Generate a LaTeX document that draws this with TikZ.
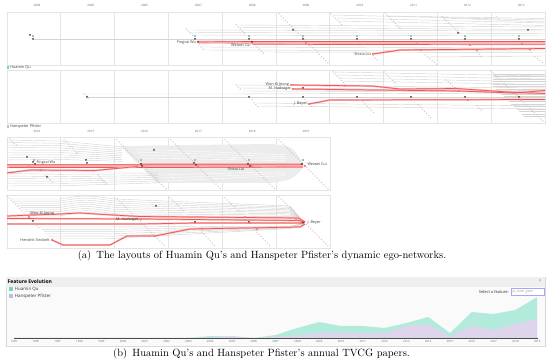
\documentclass[tikz,border=0pt]{standalone}
\usepackage{fontspec}
\setsansfont{Open Sans}
\usetikzlibrary{positioning}
\definecolor{egored}{RGB}{238,86,86}
\definecolor{egoband}{RGB}{249,182,182}
\definecolor{egodark}{RGB}{112,30,50}
\definecolor{egopale}{RGB}{216,196,203}
\definecolor{egogrid}{RGB}{228,228,228}
\definecolor{egogray}{RGB}{212,212,212}
\definecolor{egofan}{RGB}{236,236,236}
\definecolor{quteal}{RGB}{120,212,190}
\definecolor{qufill}{RGB}{178,234,220}
\definecolor{pfpurple}{RGB}{196,186,224}
\definecolor{pffill}{RGB}{222,212,236}
\definecolor{chartbg}{RGB}{250,250,250}
\definecolor{chartbar}{RGB}{239,239,239}
\tikzset{
  cell/.style={draw=egogrid, line width=0.7pt},
  year label/.style={font=\sffamily\fontsize{3}{3}\selectfont, text=black!60, inner sep=0pt},
  ego name/.style={font=\sffamily\fontsize{3.8}{4}\selectfont, text=black!75, inner sep=0.3pt},
  gray link/.style={draw=egogray, line width=0.45pt},
  red link/.style={draw=egored, line width=0.7pt},
  red halo/.style={draw=egoband, line width=1.8pt},
  red band/.style={draw=egoband, line width=3pt},
  pale diag/.style={draw=egopale, line width=1.5pt, line cap=round, dash pattern=on 0pt off 3pt},
  dark dot/.style={fill=egodark},
  ring dot/.style={draw=egored, fill=white, line width=0.4pt},
  qu key/.style={fill=quteal, inner sep=0pt, minimum size=2.5pt},
  pf key/.style={fill=pfpurple, inner sep=0pt, minimum size=2.5pt},
  caption/.style={font=\fontsize{10.5}{12}\selectfont, inner sep=0pt},
  chart text/.style={font=\sffamily\fontsize{4.4}{5}\selectfont, text=black!80, inner sep=0pt},
  axis year/.style={font=\sffamily\fontsize{2.8}{3}\selectfont, text=black!60, inner sep=0pt}
}

\begin{document}
\begin{tikzpicture}[x=1pt, y=-1pt]
\useasboundingbox (0,0) rectangle (550,363);

% (a) frames
\foreach \yr [count=\i from 0] in {2004,...,2013}
  \node[year label] (ya\yr) at ({37+53.8*\i},5) {\yr};
\foreach \ya/\yb in {12/65, 70/123} {
  \draw[cell] (7,\ya) rectangle (545,\yb);
  \foreach \i in {1,...,9}
    \draw[cell] ({7+53.8*\i},\ya) -- ({7+53.8*\i},\yb);
}
\foreach \yr [count=\i from 0] in {2014,...,2019}
  \node[year label] (yb\yr) at ({37+53.8*\i},131) {\yr};
\foreach \ya/\yb in {137/190, 195/248} {
  \draw[cell] (7,\ya) rectangle (330,\yb);
  \foreach \i in {1,...,5}
    \draw[cell] ({7+53.8*\i},\ya) -- ({7+53.8*\i},\yb);
}
\node[qu key] (qu key) at (7.8,67.6) {};
\node[ego name, right=0.5pt of qu key] (qu legend) {Huamin Qu};
\node[pf key] (pf key) at (7.8,126.4) {};
\node[ego name, right=0.5pt of pf key] (pf legend) {Hanspeter Pfister};

% Huamin Qu 2004-2013
\draw[gray link] (33,39) -- (545,39);
\foreach \xs/\ys/\ye in {186/30/31, 189/32.5/33.5, 192/35/36, 236/25/27, 239/27.5/29.5,
    201/47/48, 204/50/51, 258/52/52.5, 333/15/20, 336/18/23, 339/21/25.5,
    386/16/18.5, 444/18/22, 428/57/56}
  \draw[gray link] (\xs,\ys) -- (545,\ye);
\foreach \xa/\ya/\xb/\yb in {186/29/193/36, 199/45/205/51, 236/25/245/34, 255/45/264/54,
    279/14/329/64, 331/14/343/26, 373/56/379/62, 385/13/400/28, 425/55/438/65,
    442/17/460/33, 475/50/483/58, 497/17/500/20, 535/57/544/64}
  \draw[pale diag] (\xa,\ya) -- (\xb,\yb);
\foreach \x in {33,195,249,303,357,411,465,519}
  \fill[quteal] ({\x-0.6},35) rectangle ({\x+0.6},36.6);
\draw[red band] (198,42) -- (252,42.5) -- (545,43);
\draw[red link] (198,42) -- (252,41.5) -- (545,41.5);
\draw[red link] (252,44.3) -- (545,44.8);
\draw[red halo] (373,54) -- (400,50) -- (545,48.5);
\draw[red link] (373,54) -- (400,50) -- (545,48.5);
\foreach \x/\y in {30/35, 33/39, 195/39, 198/42, 249/39, 252/42, 293/30, 303/39,
    357/39, 411/39, 458/33, 465/39, 519/39, 528/30}
  \fill[dark dot] (\x,\y) circle (1pt);
\foreach \x/\y in {306/43, 309/44.5, 360/44.5, 417/44, 470/45, 522/44,
    373/54, 421/50, 477/50, 530/49.5}
  \filldraw[ring dot] (\x,\y) circle (0.9pt);
\node[ego name, anchor=east] (wu a) at (196.5,43) {Fingcai Wu};
\node[ego name, anchor=east] (cui a) at (251,45.5) {Weiwei Cui};
\node[ego name, anchor=east] (liu a) at (371.5,54) {Shixia Liu};

% Hanspeter Pfister 2004-2013
\draw[gray link] (84,94) -- (236,94) -- (545,93);
\draw[gray link] (87,97) -- (545,97);
\foreach \xs/\ys/\ye in {236/85/88, 239/88/90.5, 242/91/92, 255/103/106, 258/106/109,
    333/72/76, 336/75/79, 339/78/82, 342/81/84.5}
  \draw[gray link] (\xs,\ys) -- (545,\ye);
\foreach \k in {0,...,17}
  \draw[gray link] ({max(493,491+1.04*(3+2.5*\k)-14)},{74+2.5*\k}) -- (545,{74+2.5*\k});
\foreach \xa/\ya/\xb/\yb in {84/94/90/100, 236/85/242/91, 252/100/258/107, 297/90/297/90,
    305/100/312/107, 333/72/345/84, 363/102/375/114, 384/72/395/83, 418/105/432/119,
    446/80/455/88, 477/106/483/112, 491/71/543/121}
  \draw[pale diag] (\xa,\ya) -- (\xb,\yb);
\draw[red halo] (291,85) -- (372,86) -- (400,89) -- (456,88.5) -- (515,92.5) -- (545,93.5);
\draw[red halo] (293,89) -- (458,91) -- (515,93) -- (545,90.5);
\draw[red halo] (309,104) -- (330,100) -- (545,99.5);
\draw[red link] (291,85) -- (372,86) -- (400,89) -- (456,88.5) -- (515,92.5) -- (545,93.5);
\draw[red link] (293,89) -- (458,91) -- (515,93) -- (545,90.5);
\draw[red link] (309,104) -- (330,100) -- (545,99.5);
\foreach \x/\y in {87/97, 249/97, 303/88, 303/97, 357/97, 411/97, 465/97, 519/97}
  \fill[dark dot] (\x,\y) circle (1pt);
\foreach \x/\y in {291/85, 293/89, 309/104, 345/85.5, 455/88.5, 459/91, 515/92.5,
    468/100, 521/99.5}
  \filldraw[ring dot] (\x,\y) circle (0.9pt);
\node[ego name, anchor=east] (jeong a) at (289.5,85) {Won-Ki Jeong};
\node[ego name, anchor=east] (hadwiger a) at (291.5,89) {M. Hadwiger};
\node[ego name, anchor=east] (beyer a) at (307.5,104) {J. Beyer};

% Huamin Qu 2014-2019
\fill[egofan] (120,146) -- (270,144) .. controls (292,146) .. (303,163) -- (303,168)
  .. controls (292,180) .. (270,183) -- (157,183) -- cycle;
\foreach \yy in {149,152,155,158,175,178,181}
  \draw[white, line width=0.4pt] ({max(125,120+(\yy-146))+10},\yy) -- (285,{\yy+(165.5-\yy)*0.35});
\foreach \k in {0,...,8}
  \draw[gray link] (7,{140+2.5*\k}) -- (60,{141+2.3*\k}) -- (122,{147+1.8*\k});
\foreach \k in {0,...,6}
  \draw[gray link] (7,{171+2.5*\k}) -- (60,{172+2.3*\k}) -- (158,{172+1.8*\k});
\foreach \xa/\ya/\xb/\yb in {10/139/17/146, 46/176/54/184, 64/140/78/154, 98/175/108/186,
    117/140/166/189, 171/140/221/189, 225/140/275/189, 279/140/328/189}
  \draw[pale diag] (\xa,\ya) -- (\xb,\yb);
\foreach \x in {34,141,195,249,303}
  \fill[quteal] ({\x-0.6},159.5) rectangle ({\x+0.6},161.1);
\draw[red band] (7,166) -- (140,166);
\draw[draw=egoband, line width=5pt] (140,166) -- (303,166);
\draw[red link] (7,164.8) -- (140,164.8) -- (303,164.6);
\draw[red link] (7,167.4) -- (140,167.6) -- (303,167);
\draw[red halo] (7,173) -- (30,170) -- (95,170.5) -- (137,166.5);
\draw[red link] (7,173) -- (30,170) -- (95,170.5) -- (137,166.5);
\foreach \x/\y in {27/157, 33/162, 35/164, 47/177, 86/160, 87/163, 141/164, 142/166,
    154/150, 194/163, 196/165, 248/164, 250/166, 302/164}
  \fill[dark dot] (\x,\y) circle (1pt);
\foreach \x/\y in {29/167, 41/170, 93/170.5, 137/166.5, 144/167, 198/166.5, 252/166.5, 305/166}
  \filldraw[ring dot] (\x,\y) circle (0.9pt);
\node[ego name, anchor=west] (wu b) at (36,163) {Fingcai Wu};
\node[ego name, anchor=west] (liu b) at (227,169.5) {Shixia Liu};
\node[ego name, anchor=west] (cui b) at (307,164.5) {Weiwei Cui};

% Hanspeter Pfister 2014-2019
\foreach \k in {0,...,8}
  \draw[gray link] ({10+2.5*\k},{199+2.1*\k}) -- (60,{199+2.1*\k})
    .. controls (85,{195+2.1*\k}) .. (115,{199+2.1*\k}) -- (290,{206+1.3*\k}) -- (302,220);
\foreach \k in {0,...,5}
  \draw[gray link] ({40+2*\k},{227+2.3*\k}) -- (110,{227+2.3*\k}) -- (290,{226+0.5*\k}) -- (302,224);
\foreach \xa/\ya/\xb/\yb in {7/196/40/229, 117/199/166/247, 170/198/185/212, 200/230/215/246,
    225/198/240/212, 255/230/270/246, 279/197/328/246}
  \draw[pale diag] (\xa,\ya) -- (\xb,\yb);
\draw[red halo] (7,216) -- (60,214) -- (80,213) -- (113,215) -- (140,216.5) -- (298,218) -- (305,222);
\draw[red halo] (7,218.5) -- (140,219) -- (298,220.5) -- (305,222);
\draw[red halo] (7,224) -- (140,224) -- (195,223) -- (300,223) -- (305,222);
\draw[red halo] (52,240) -- (63,245) -- (110,245) -- (127,236) -- (155,236) -- (190,229) -- (300,227) -- (305,224);
\draw[red link] (7,216) -- (60,214) -- (80,213) -- (113,215) -- (140,216.5) -- (298,218) -- (305,222);
\draw[red link] (7,218.5) -- (140,219) -- (298,220.5) -- (305,222);
\draw[red link] (7,224) -- (140,224) -- (195,223) -- (300,223) -- (305,222);
\draw[red link] (52,240) -- (63,245) -- (110,245) -- (127,236) -- (155,236) -- (190,229) -- (300,227) -- (305,224);
\foreach \x/\y in {33/221, 156/206, 195/222, 249/222, 303/223}
  \fill[dark dot] (\x,\y) circle (1pt);
\foreach \x/\y in {29/217, 52/240, 141/219.5, 155/236, 202/228.5, 245/217, 250/223, 257/229,
    296/220, 301/223}
  \filldraw[ring dot] (\x,\y) circle (0.9pt);
\node[ego name, anchor=west] (jeong b) at (30,214) {Won-Ki Jeong};
\node[ego name, anchor=east] (hadwiger b) at (139,220) {M. Hadwiger};
\node[ego name, anchor=east] (strobelt b) at (50,240) {Hendrik Strobelt};
\node[ego name, anchor=west] (beyer b) at (307,222.5) {J. Beyer};

\node[caption] (cap a) at (262,255.5)
  {(a)\hspace{0.5em}The layouts of Huamin Qu’s and Hanspeter Pfister’s dynamic ego-networks.};

% (b) feature evolution
\filldraw[fill=chartbg, draw=black!15, line width=0.5pt] (6,277) rectangle (545,346);
\fill[chartbar] (6.3,277.3) rectangle (544.7,287);
\node[font=\sffamily\bfseries\fontsize{5}{6}\selectfont, anchor=west, inner sep=0pt] (fe title)
  at (7.5,282) {Feature Evolution};
\node[font=\sffamily\fontsize{5}{6}\selectfont, text=black!45, inner sep=0pt] (fe close)
  at (540,281.5) {×};
\node[qu key, minimum size=3.6pt] (qu swatch) at (11,289.2) {};
\node[chart text, right=1.8pt of qu swatch] (leg qu) {Huamin Qu};
\node[pf key, minimum size=3.6pt] (pf swatch) at (11,296.2) {};
\node[chart text, right=1.8pt of pf swatch] (leg pf) {Hanspeter Pfister};
\node[chart text, font=\sffamily\fontsize{4}{5}\selectfont, anchor=east] (sel) at (509,292)
  {Select a feature:};
\draw[blue!35, fill=white, line width=0.5pt] (511,288.5) rectangle (544,295.5);
\node[chart text, font=\sffamily\fontsize{3.6}{4}\selectfont, text=black!40, anchor=west]
  (sel box) at (512.5,292) {p\_num\_year};
\fill[qufill] (14,338) \foreach \v [count=\i from 0] in
  {0,0,0,0,0,0,0,0,0,2,1.5,0,3,10,16,12,12,10,15,21,5,26,24,28,41}
  { -- ({14+21.8*\i},{338-\v}) } -- (537,338) -- cycle;
\fill[pffill] (14,338) \foreach \v [count=\i from 0] in
  {0,0,0,0,0,0,0,0,0,0.5,2,0,1,3,5,5,5,5,12,14,2,12,8,14,19}
  { -- ({14+21.8*\i},{338-\v}) } -- (537,338) -- cycle;
\draw[black!70, line width=0.5pt] (14,338) -- (537,338);
\foreach \yr [count=\i from 0] in {1995,...,2019} {
  \draw[black!70, line width=0.4pt] ({14+21.8*\i},338) -- ({14+21.8*\i},339.5);
  \node[axis year] (ax\yr) at ({14+21.8*\i},342) {\yr};
}
\node[caption] (cap b) at (261.5,353.5)
  {(b)\hspace{0.5em}Huamin Qu’s and Hanspeter Pfister’s annual TVCG papers.};
\end{tikzpicture}
\end{document}
